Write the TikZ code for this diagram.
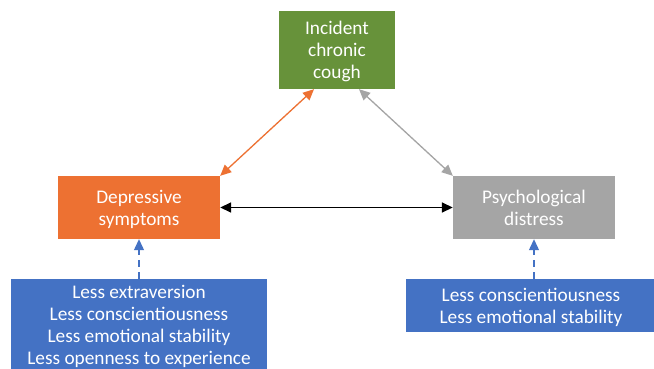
\documentclass[tikz,border=0pt]{standalone}
\usepackage{fontspec}
\setmainfont{Carlito}
\usetikzlibrary{arrows.meta}
\definecolor{cgreen}{RGB}{103,146,58}
\definecolor{corange}{RGB}{237,113,50}
\definecolor{cgray}{RGB}{165,165,165}
\definecolor{cblue}{RGB}{68,114,196}
\begin{document}
\begin{tikzpicture}[x=1pt,y=-1pt,
  box/.style={draw=none,text=white,align=center,inner sep=0pt,text depth=0pt,
    font=\fontsize{19.3}{21.8}\selectfont},
  tipA/.style={-{Triangle[length=11pt,width=10pt]}},
  dbl/.style={{Triangle[length=11pt,width=10pt]}-{Triangle[length=11pt,width=10pt]}}
]
\useasboundingbox (0,0) rectangle (654,369);
\fill[white] (0,0) rectangle (654,369);
\node[box,fill=cgreen,minimum width=116pt,minimum height=78pt] (g) at (337,50) {Incident\\chronic\\cough};
\node[box,fill=corange,minimum width=162pt,minimum height=63pt] (o) at (139,207.5) {Depressive\\symptoms};
\node[box,fill=cgray,minimum width=162pt,minimum height=63pt] (p) at (534,207.5) {Psychological\\distress};
\node[box,fill=cblue,minimum width=256pt,minimum height=92pt] (bl) at (139,325) {Less extraversion\\Less conscientiousness\\Less emotional stability\\Less openness to experience};
\node[box,fill=cblue,minimum width=250pt,minimum height=53pt] (br) at (531,305.5) {Less conscientiousness\\Less emotional stability};
\coordinate (gl) at ([xshift=-23pt]g.south);
\coordinate (gr) at ([xshift=22pt]g.south);
\draw[dbl,corange,line width=1.3pt] (o.north east) -- (gl);
\draw[dbl,cgray,line width=1.3pt] (p.north west) -- (gr);
\draw[dbl,black,line width=1.6pt] (o.east) -- (p.east -| p.west);
\draw[tipA,cblue,line width=1.2pt,dash pattern=on 7pt off 5pt] (bl.north) -- (o.south);
\draw[tipA,cblue,line width=1.2pt,dash pattern=on 7pt off 5pt] (bl.north -| p.south) -- (p.south);
\end{tikzpicture}
\end{document}
